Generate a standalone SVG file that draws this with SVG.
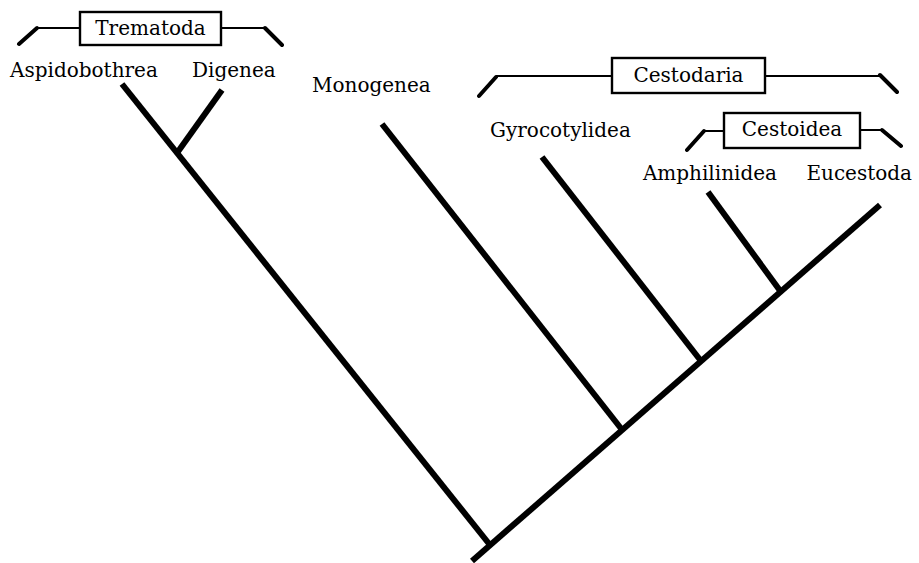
<svg xmlns="http://www.w3.org/2000/svg" width="919" height="563" viewBox="0 0 919 563">
<style>
text{font-family:"DejaVu Serif","Liberation Serif",serif;font-size:20px;fill:#000}
.br{fill:none;stroke:#000;stroke-width:2.2}
.tick{fill:none;stroke:#000;stroke-width:4;stroke-linecap:round}
.box{fill:#fff;stroke:#000;stroke-width:2.4}
.edge{stroke:#000;stroke-width:6;stroke-linecap:butt;fill:none}
</style>
<rect width="919" height="563" fill="#fff"/>
<g id="connectors">
<line class="edge" x1="122" y1="84" x2="490" y2="545"/>
<line class="edge" x1="222" y1="90" x2="177" y2="153"/>
<line class="edge" x1="382" y1="124" x2="623" y2="431"/>
<line class="edge" x1="542" y1="157" x2="701" y2="361"/>
<line class="edge" x1="708" y1="192" x2="781" y2="292"/>
<line class="edge" x1="472" y1="561" x2="880" y2="205"/>
</g>
<g id="trematoda">
<path class="br" d="M37 28 H80 M221 28 H265"/>
<path class="tick" d="M19 44 L37 28 M265 28 L282 45"/>
<rect class="box" x="80" y="12" width="141" height="33"/>
<text x="150.5" y="35" text-anchor="middle">Trematoda</text>
</g>
<g id="aspidobothrea"><text x="10" y="77">Aspidobothrea</text></g>
<g id="digenea"><text x="192" y="77">Digenea</text></g>
<g id="monogenea"><text x="312" y="92">Monogenea</text></g>
<g id="cestodaria">
<path class="br" d="M496 76 H612 M765 76 H880"/>
<path class="tick" d="M479 96 L496 77 M880 75 L897 92"/>
<rect class="box" x="612" y="58" width="153" height="35"/>
<text x="688.5" y="82" text-anchor="middle">Cestodaria</text>
</g>
<g id="gyrocotylidea"><text x="490" y="137">Gyrocotylidea</text></g>
<g id="cestoidea">
<path class="br" d="M704 131 H724 M860 130 H882"/>
<path class="tick" d="M687 150 L704 131 M882 130 L901 146"/>
<rect class="box" x="724" y="113" width="136" height="35"/>
<text x="792" y="136" text-anchor="middle">Cestoidea</text>
</g>
<g id="amphilinidea"><text x="777" y="180" text-anchor="end">Amphilinidea</text></g>
<g id="eucestoda"><text x="912" y="180" text-anchor="end">Eucestoda</text></g>
</svg>
